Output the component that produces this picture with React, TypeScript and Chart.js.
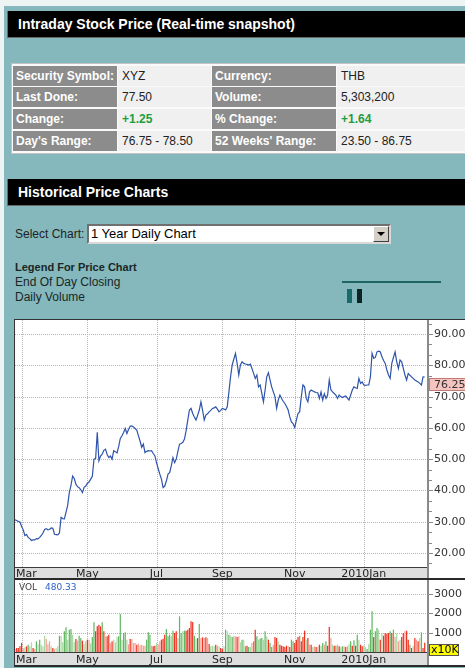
import React, { useEffect, useRef } from "react";
import { Chart, registerables } from "chart.js";
Chart.register(...registerables);

const TEAL = "#84b8bc";
const SANS = '"Liberation Sans", Arial, sans-serif';
const AXIS_FONT = '"DejaVu Sans"';
const BAND = "#dedede";

// ---- data ----
const monthTickIndex = [4, 44, 86, 126, 170, 212];
const monthTickLabels = ["Mar", "May", "Jul", "Sep", "Nov", "2010Jan"];
const priceTicks = [20, 30, 40, 50, 60, 70, 80, 90];
const priceMin = 15.525;
const priceMax = 94.475;
const volumeTicks = [1000, 2000, 3000];
const volumeMax = 3730;
const xMax = 251;

const closes = [
  30.6, 30.4, 30.1, 29.9, 28.5, 27.4, 25.6, 25.9, 25.0, 24.6,
  24.0, 24.2, 24.2, 24.6, 24.5, 25.0, 25.6, 26.4, 27.5, 27.8,
  27.4, 27.5, 28.0, 27.9, 26.0, 25.9, 25.8, 26.4, 31.4, 31.0,
  30.9, 33.0, 35.2, 39.3, 41.5, 44.6, 43.8, 42.0, 41.2, 40.9,
  40.2, 39.3, 41.0, 41.4, 42.3, 42.7, 43.6, 44.5, 50.0, 50.2,
  58.6, 49.5, 51.0, 51.6, 52.8, 53.2, 51.5, 50.5, 51.0, 50.0,
  52.7, 52.4, 52.0, 54.0, 56.6, 57.5, 58.5, 59.8, 58.2, 59.5,
  60.5, 60.6, 60.3, 59.8, 59.3, 57.5, 55.8, 53.8, 54.8, 52.1,
  52.5, 52.7, 52.6, 52.7, 51.8, 51.1, 48.9, 47.0, 45.2, 43.6,
  40.9, 41.4, 43.0, 45.2, 45.7, 47.9, 50.5, 48.9, 50.0, 52.5,
  54.8, 55.0, 55.4, 56.4, 59.1, 62.5, 65.7, 66.2, 64.6, 63.5,
  62.5, 64.0, 65.7, 68.3, 65.7, 62.5, 64.1, 64.5, 65.1, 65.6,
  66.2, 66.4, 66.7, 66.0, 65.1, 65.6, 66.2, 66.0, 65.7, 66.7,
  71.5, 76.3, 80.1, 82.0, 83.8, 80.6, 76.9, 80.1, 81.1, 80.6,
  80.4, 80.3, 80.1, 80.4, 79.0, 77.4, 75.8, 76.9, 73.1, 73.7,
  71.0, 68.3, 72.1, 76.3, 77.6, 75.3, 73.1, 71.5, 70.0, 66.2,
  68.9, 70.5, 69.4, 68.5, 67.8, 66.8, 65.7, 63.5, 61.9, 61.4,
  60.1, 62.5, 64.6, 65.1, 70.0, 73.7, 73.1, 69.4, 68.3, 71.5,
  72.1, 71.8, 71.5, 71.3, 71.2, 69.4, 71.5, 68.9, 70.9, 69.4,
  70.5, 75.3, 72.1, 71.5, 71.0, 70.5, 69.4, 70.5, 70.0, 69.7,
  70.0, 70.2, 69.5, 68.9, 70.5, 72.1, 73.1, 72.8, 72.6, 75.8,
  74.2, 74.7, 73.7, 73.6, 73.7, 73.7, 76.3, 83.8, 82.2, 82.5,
  84.3, 84.5, 84.3, 82.7, 81.5, 80.6, 78.5, 76.9, 75.8, 80.6,
  82.5, 84.3, 81.1, 79.0, 81.7, 81.1, 79.0, 76.9, 75.3, 77.4,
  76.8, 76.3, 75.8, 75.3, 75.0, 74.7, 74.2, 73.7, 76.3, 76.25,
];

// daily volume in units of 10K shares
const volumes = [
  150, 207, 207, 300, 470, 200, 250, 294, 380, 300,
  501, 207, 155, 553, 400, 639, 380, 300, 846, 674,
  400, 553, 300, 207, 155, 200, 300, 846, 846, 500,
  1071, 1278, 639, 1157, 1192, 898, 500, 674, 587, 846,
  725, 587, 400, 553, 639, 639, 450, 777, 1537, 1071,
  1330, 1416, 1330, 1537, 1071, 812, 812, 898, 466, 553,
  639, 500, 777, 812, 1969, 639, 984, 1019, 639, 400,
  674, 674, 466, 466, 380, 432, 346, 380, 328, 328,
  639, 1019, 898, 328, 294, 328, 466, 400, 553, 639,
  691, 898, 1192, 812, 898, 812, 1105, 984, 1071, 725,
  1848, 984, 1071, 1105, 1105, 1157, 1244, 1589, 1554, 846,
  674, 725, 1451, 725, 760, 725, 760, 725, 414, 300,
  328, 294, 380, 328, 294, 207, 155, 300, 1157, 1071,
  898, 846, 777, 812, 812, 777, 812, 500, 639, 639,
  294, 328, 259, 259, 466, 553, 1157, 812, 639, 700,
  725, 639, 1071, 812, 639, 466, 259, 380, 777, 725,
  553, 380, 328, 294, 259, 328, 294, 259, 639, 553,
  466, 639, 777, 846, 553, 777, 1105, 639, 725, 380,
  380, 259, 294, 259, 259, 380, 328, 466, 380, 553,
  328, 1295, 725, 380, 328, 328, 380, 294, 259, 294,
  300, 259, 294, 400, 553, 328, 604, 328, 898, 639,
  380, 294, 350, 259, 155, 400, 1157, 2107, 777, 1071,
  1244, 1157, 639, 984, 846, 984, 950, 984, 1071, 984,
  1157, 777, 950, 553, 639, 777, 984, 1071, 1105, 639,
  380, 207, 328, 725, 639, 553, 725, 1019, 207, 480.33,
];

// R = down, r = down (light), G = up, g = up (light)
const volumeColorCodes = [
  "rRRRRrgRGg", "gRrGgGgggr", "rrgRrggGgg", "GGgGGggRrG", "GRggRrgGGR",
  "RRRGRgRRrR", "gggGGgGGgr", "RrrrRrrrrr", "GGGrRRgrrR", "RRGGGgGRRg",
  "GGgGRRRRRG", "gRGrRrRrRg", "ggRrgRRgGg", "GgGrrRrgGg", "GRGgrGRGgG",
  "GgGgRGGrRR", "gRRRRRrRGG", "RRRGRRRgRr", "RgrRgRgGrG", "RRrgRGrRgG",
  "rRrgGRGRGg", "RRggGgGGRG", "GgRgRRRRGR", "GrgrgRRrRR", "GRgRrRgGRR",
].join("");

const volumeColors: Record<string, string> = {
  R: "#ee3322",
  r: "#f5a193",
  G: "#62b862",
  g: "#abd9a3",
};

const lastClose = closes[closes.length - 1];
const lastVolume = volumes[volumes.length - 1];

const quoteLabels = [
  ["Security Symbol:", "Currency:"],
  ["Last Done:", "Volume:"],
  ["Change:", "% Change:"],
  ["Day's Range:", "52 Weeks' Range:"],
];
const quoteValues = [
  ["XYZ", "THB"],
  ["77.50", "5,303,200"],
  ["+1.25", "+1.64"],
  ["76.75 - 78.50", "23.50 - 86.75"],
];
const quoteValueGreen = [
  [false, false],
  [false, false],
  [true, true],
  [false, false],
];

// ---- drawing helpers ----
function drawDottedGrid(chart: any, yTicks: number[]) {
  const { ctx, chartArea: a } = chart;
  const xs = chart.scales.x;
  const ys = chart.scales.y;
  ctx.save();
  ctx.fillStyle = "#b4b4b4";
  monthTickIndex.forEach((v) => {
    const x = Math.round(xs.getPixelForValue(v));
    for (let y = Math.ceil(a.top); y < a.bottom; y += 2) ctx.fillRect(x, y, 1, 1);
  });
  yTicks.forEach((v) => {
    const y = Math.round(ys.getPixelForValue(v));
    for (let x = Math.ceil(a.left); x < a.right - 1; x += 2) ctx.fillRect(x, y, 1, 1);
  });
  ctx.restore();
}

function drawMonthLabels(chart: any, bandTop: number, bandBottom: number) {
  const { ctx, chartArea: a } = chart;
  const xs = chart.scales.x;
  ctx.font = `11px ${AXIS_FONT}`;
  ctx.fillStyle = "#222";
  ctx.textBaseline = "middle";
  ctx.textAlign = "left";
  monthTickIndex.forEach((v, k) => {
    const label = monthTickLabels[k];
    const w = ctx.measureText(label).width;
    let x = xs.getPixelForValue(v) - w / 2;
    if (x < a.left + 1) x = a.left + 1;
    ctx.fillText(label, x, (bandTop + bandBottom) / 2 + 1);
  });
}

function drawFrame(chart: any) {
  const { ctx, chartArea: a, width, height } = chart;
  ctx.fillStyle = "#3c3c3c";
  ctx.fillRect(a.left, a.bottom, a.right - a.left, 1);
  ctx.fillStyle = "#2a2a2a";
  ctx.fillRect(0, height - 2, width, 2);
  drawMonthLabels(chart, a.bottom + 1, height - 2);
  ctx.fillStyle = "#8a8a8a";
  ctx.fillRect(a.right - 1, 0, 2, height - 2);
}

const bgPlugin = {
  id: "panelBg",
  beforeDraw(chart: any) {
    const { ctx, chartArea: a, width, height } = chart;
    ctx.save();
    ctx.fillStyle = "#ffffff";
    ctx.fillRect(0, 0, width, height);
    ctx.fillStyle = BAND;
    ctx.fillRect(a.left, a.bottom, a.right - a.left, height - 2 - a.bottom);
    ctx.restore();
  },
};

const pricePlugin = {
  id: "priceAxis",
  beforeDatasetsDraw(chart: any) {
    drawDottedGrid(chart, priceTicks);
  },
  afterDraw(chart: any) {
    const { ctx, chartArea: a, width } = chart;
    const ys = chart.scales.y;
    ctx.save();
    drawFrame(chart);
    // minor ticks
    const step = (priceTicks[1] - priceTicks[0]) / 3;
    ctx.fillStyle = "#8a8a8a";
    for (let k = -3; k <= (priceTicks.length - 1) * 3 + 3; k++) {
      const v = priceTicks[0] + k * step;
      if (v < priceMin || v > priceMax) continue;
      const y = Math.round(ys.getPixelForValue(v));
      ctx.fillRect(a.right + 1, y, k % 3 === 0 ? 4 : 3, 1);
    }
    ctx.font = `11px ${AXIS_FONT}`;
    ctx.textBaseline = "middle";
    ctx.textAlign = "left";
    ctx.fillStyle = "#333";
    priceTicks.forEach((v) => {
      const y = Math.round(ys.getPixelForValue(v));
      ctx.fillText(v.toFixed(2), a.right + 6, y + 0.5);
    });
    // last price marker
    const top = Math.round(ys.getPixelForValue(lastClose)) + 1;
    ctx.fillStyle = "#f6c4c0";
    ctx.fillRect(a.right + 1, top, width - a.right - 1, 13);
    ctx.strokeStyle = "#c27a74";
    ctx.lineWidth = 1;
    ctx.strokeRect(a.right + 1.5, top + 0.5, width - a.right, 12);
    ctx.fillStyle = "#333";
    ctx.fillText(lastClose.toFixed(2), a.right + 6, top + 7);
    ctx.restore();
  },
};

const volumePlugin = {
  id: "volumeAxis",
  beforeDatasetsDraw(chart: any) {
    drawDottedGrid(chart, volumeTicks);
  },
  afterDraw(chart: any) {
    const { ctx, chartArea: a } = chart;
    const ys = chart.scales.y;
    ctx.save();
    drawFrame(chart);
    ctx.font = `11px ${AXIS_FONT}`;
    ctx.textBaseline = "middle";
    ctx.textAlign = "left";
    volumeTicks.forEach((v) => {
      const y = Math.round(ys.getPixelForValue(v));
      ctx.fillStyle = "#8a8a8a";
      ctx.fillRect(a.right + 1, y, 4, 1);
      ctx.fillStyle = "#333";
      ctx.fillText(String(v), a.right + 6, y + 0.5);
    });
    // x10K unit box
    const bt = a.bottom - 8;
    ctx.fillStyle = "#ffff00";
    ctx.fillRect(a.right + 1, bt, 30, 12);
    ctx.strokeStyle = "#555";
    ctx.strokeRect(a.right + 1.5, bt + 0.5, 29, 11);
    ctx.fillStyle = "#000";
    ctx.fillText("x10K", a.right + 3, bt + 6.5);
    // VOL label
    ctx.font = `9px ${AXIS_FONT}`;
    ctx.fillStyle = "#444";
    ctx.fillText("VOL", a.left + 4, a.top + 8);
    ctx.fillStyle = "#2f62c8";
    ctx.fillText(lastVolume.toFixed(2), a.left + 30, a.top + 8);
    ctx.restore();
  },
};

function baseScales(yMin: number, yMax: number, yTicks: number[], xHeight: number) {
  return {
    x: {
      type: "linear",
      min: 0,
      max: xMax,
      offset: false,
      afterBuildTicks: (s: any) => {
        s.ticks = monthTickIndex.map((v) => ({ value: v }));
      },
      afterFit: (s: any) => {
        s.height = xHeight;
      },
      ticks: { display: false },
      grid: { display: false, drawTicks: false, offset: false },
      border: { display: false },
    },
    y: {
      type: "linear",
      position: "right",
      min: yMin,
      max: yMax,
      afterBuildTicks: (s: any) => {
        s.ticks = yTicks.map((v) => ({ value: v }));
      },
      afterFit: (s: any) => {
        s.width = 37;
      },
      ticks: { display: false },
      grid: { display: false, drawTicks: false },
      border: { display: false },
    },
  };
}

function Header({ top, text }: { top: number; text: string }) {
  return (
    <div
      style={{
        position: "absolute",
        left: 7,
        top,
        width: 458,
        height: 27,
        boxSizing: "border-box",
        background: "#000",
        borderLeft: "1px solid #6a6a6a",
        borderBottom: "1px solid #6a6a6a",
        color: "#fff",
        fontWeight: "bold",
        fontSize: 14,
        lineHeight: "26px",
        paddingLeft: 10,
        whiteSpace: "nowrap",
      }}
    >
      {text}
    </div>
  );
}

const colLeft = [13, 118, 212, 337];
const colWidth = [104, 93, 124, 128];
const rowTop = [66, 87, 109, 131];

export default function App() {
  const priceRef = useRef<HTMLCanvasElement>(null);
  const volRef = useRef<HTMLCanvasElement>(null);

  useEffect(() => {
    const pc = new Chart(priceRef.current as HTMLCanvasElement, {
      type: "line",
      data: {
        datasets: [
          {
            data: closes.map((y, i) => ({ x: i, y })),
            borderColor: "#2f54ab",
            borderWidth: 1.2,
            pointRadius: 0,
            tension: 0,
            fill: false,
          },
        ],
      },
      options: {
        animation: false,
        responsive: true,
        maintainAspectRatio: false,
        devicePixelRatio: 1,
        events: [],
        layout: { padding: 0 },
        plugins: { legend: { display: false }, tooltip: { enabled: false } },
        scales: baseScales(priceMin, priceMax, priceTicks, 13) as any,
      },
      plugins: [bgPlugin, pricePlugin],
    });
    const vc = new Chart(volRef.current as HTMLCanvasElement, {
      type: "bar",
      data: {
        datasets: [
          {
            data: volumes.map((y, i) => ({ x: i, y })),
            backgroundColor: volumes.map((_, i) => volumeColors[volumeColorCodes[i]] || volumeColors.R),
            borderWidth: 0,
            barPercentage: 0.75,
            categoryPercentage: 1,
          },
        ],
      },
      options: {
        animation: false,
        responsive: true,
        maintainAspectRatio: false,
        devicePixelRatio: 1,
        events: [],
        layout: { padding: 0 },
        plugins: { legend: { display: false }, tooltip: { enabled: false } },
        scales: baseScales(0, volumeMax, volumeTicks, 15) as any,
      },
      plugins: [bgPlugin, volumePlugin],
    });
    return () => {
      pc.destroy();
      vc.destroy();
    };
  }, []);

  return (
    <div
      style={{
        position: "relative",
        width: 465,
        height: 668,
        overflow: "hidden",
        background: "#eef3f3",
        fontFamily: SANS,
      }}
    >
      <style>{`body{margin:0}`}</style>
      <div style={{ position: "absolute", left: 4, top: 6, width: 461, height: 662, background: TEAL }} />

      <Header top={11} text="Intraday Stock Price (Real-time snapshot)" />

      {/* quote table */}
      <div
        style={{
          position: "absolute",
          left: 11,
          top: 63,
          width: 460,
          height: 89,
          background: "#fafafa",
          border: "1px solid #c4c4c4",
        }}
      />
      {quoteLabels.map((row, r) =>
        row.map((label, c) => {
          const li = c * 2;
          const vi = c * 2 + 1;
          return (
            <React.Fragment key={`${r}-${c}`}>
              <div
                style={{
                  position: "absolute",
                  left: colLeft[li],
                  top: rowTop[r],
                  width: colWidth[li],
                  height: 20,
                  background: "#8c8c8c",
                  color: "#fff",
                  fontWeight: "bold",
                  fontSize: 12,
                  lineHeight: "20px",
                  paddingLeft: 3,
                  boxSizing: "border-box",
                  whiteSpace: "nowrap",
                }}
              >
                {label}
              </div>
              <div
                style={{
                  position: "absolute",
                  left: colLeft[vi],
                  top: rowTop[r],
                  width: colWidth[vi],
                  height: 20,
                  background: "#f0f0f0",
                  color: quoteValueGreen[r][c] ? "#1e9e3e" : "#222",
                  fontWeight: quoteValueGreen[r][c] ? "bold" : "normal",
                  fontSize: 12,
                  lineHeight: "20px",
                  paddingLeft: 4,
                  boxSizing: "border-box",
                  whiteSpace: "nowrap",
                }}
              >
                {quoteValues[r][c]}
              </div>
            </React.Fragment>
          );
        })
      )}

      <Header top={179} text="Historical Price Charts" />

      {/* select row */}
      <div style={{ position: "absolute", left: 15, top: 227, fontSize: 12, lineHeight: "14px", color: "#222" }}>
        Select Chart:
      </div>
      <div
        style={{
          position: "absolute",
          left: 87,
          top: 224,
          width: 304,
          height: 20,
          boxSizing: "border-box",
          background: "#fff",
          borderStyle: "solid",
          borderWidth: 2,
          borderColor: "#707070 #d8d8d8 #d8d8d8 #707070",
        }}
      >
        <div style={{ position: "absolute", left: 2, top: 0, fontSize: 13, lineHeight: "16px", color: "#000" }}>
          1 Year Daily Chart
        </div>
        <div
          style={{
            position: "absolute",
            right: 0,
            top: 0,
            width: 16,
            height: 16,
            boxSizing: "border-box",
            background: "#d4d0c8",
            borderStyle: "solid",
            borderWidth: 1,
            borderColor: "#ffffff #404040 #404040 #ffffff",
          }}
        >
          <div
            style={{
              position: "absolute",
              left: 3,
              top: 5,
              width: 0,
              height: 0,
              borderLeft: "4px solid transparent",
              borderRight: "4px solid transparent",
              borderTop: "4px solid #000",
            }}
          />
        </div>
      </div>

      {/* legend */}
      <div style={{ position: "absolute", left: 15, top: 260, fontSize: 11, fontWeight: "bold", lineHeight: "14px", color: "#1b2626" }}>
        Legend For Price Chart
      </div>
      <div style={{ position: "absolute", left: 15, top: 275, fontSize: 12, lineHeight: "14px", color: "#1b2626" }}>
        End Of Day Closing
      </div>
      <div style={{ position: "absolute", left: 15, top: 290, fontSize: 12, lineHeight: "14px", color: "#1b2626" }}>
        Daily Volume
      </div>
      <div style={{ position: "absolute", left: 342, top: 281, width: 99, height: 2, background: "#1e6464" }} />
      <div style={{ position: "absolute", left: 347, top: 289, width: 5, height: 14, background: "#1b6a6a" }} />
      <div style={{ position: "absolute", left: 357, top: 289, width: 5, height: 14, background: "#0b2525" }} />

      {/* chart box */}
      <div style={{ position: "absolute", left: 14, top: 319, width: 451, height: 348, background: "#fff" }} />
      <div style={{ position: "absolute", left: 14, top: 319, width: 451, height: 1, background: "#333" }} />
      <div style={{ position: "absolute", left: 14, top: 319, width: 1, height: 348, background: "#333" }} />
      <div style={{ position: "absolute", left: 15, top: 320, width: 450, height: 260 }}>
        <canvas ref={priceRef} />
      </div>
      <div style={{ position: "absolute", left: 15, top: 580, width: 450, height: 87 }}>
        <canvas ref={volRef} />
      </div>
    </div>
  );
}
